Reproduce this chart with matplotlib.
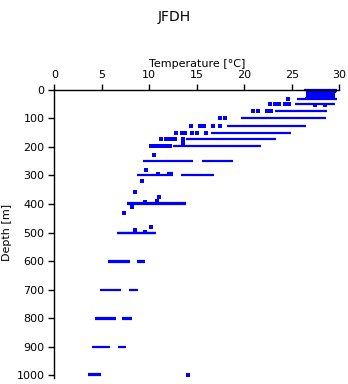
import numpy as np
import matplotlib
matplotlib.use("Agg")
import matplotlib.pyplot as plt

# горизонтальные отрезки: глубина [м], мин. и макс. температура [°C]
seg_depth = [0, 4, 8, 12, 16, 20, 24, 28,
             31, 49, 75, 100, 125, 150, 173, 198,
             250, 250, 300, 300, 292, 296, 398, 401,
             500, 502, 600, 603, 600, 603, 700, 700,
             800, 803, 800, 803, 900, 900, 997, 1001]
seg_tmin = [26.3, 26.5, 26.5, 26.5, 26.5, 26.5, 26.5, 26.4,
            25.6, 25.3, 23.2, 19.7, 18.2, 16.5, 13.9, 12.5,
            9.3, 15.6, 8.7, 13.3, 11.9, 11.9, 7.7, 7.7,
            6.6, 6.6, 5.7, 5.7, 8.7, 8.7, 4.8, 7.9,
            4.3, 4.3, 7.1, 7.1, 4.0, 6.7, 3.5, 3.5]
seg_tmax = [29.8, 29.8, 29.7, 29.6, 29.5, 29.5, 29.5, 29.4,
            29.8, 29.5, 28.7, 28.6, 26.5, 24.9, 23.3, 21.8,
            14.6, 18.8, 12.5, 16.8, 12.5, 12.5, 13.9, 13.9,
            10.7, 10.7, 8.0, 8.0, 9.5, 9.5, 7.0, 8.8,
            6.5, 6.5, 8.2, 8.2, 5.9, 7.5, 4.9, 4.9]

# отдельные точки
pt_temp = [24.6, 22.7, 23.2, 23.7, 24.3, 24.7, 20.9, 21.4, 22.4, 22.8,
           17.4, 18.0, 14.4, 15.3, 15.8, 16.7, 17.4,
           12.8, 13.4, 13.8, 14.5, 15.0, 16.0,
           11.2, 11.8, 12.1, 12.4, 12.7, 13.5, 13.5,
           10.2, 10.6, 11.0, 11.3, 11.6, 11.9, 12.2,
           10.5, 9.7, 10.9, 9.2, 8.5, 11.0,
           9.6, 10.8, 8.2, 7.3, 8.5, 9.6, 10.2, 14.1, 27.4, 28.5]
pt_depth = [31, 49, 49, 49, 49, 49, 75, 75, 75, 75,
            100, 100, 125, 125, 125, 125, 125,
            150, 150, 150, 150, 150, 150,
            173, 173, 173, 173, 173, 173, 185,
            198, 198, 198, 198, 198, 198, 198,
            230, 280, 296, 318, 358, 374,
            393, 388, 410, 430, 491, 497, 482, 1000, 54, 54]

plt.rcParams['font.family'] = ['DejaVu Sans']
fig = plt.figure(figsize=(3.48, 3.84), dpi=100)
ax = fig.add_axes([0.156, 0.023, 0.819, 0.743])

ax.hlines(seg_depth, seg_tmin, seg_tmax, colors='#0000ff', linewidth=1.6, clip_on=False)
ax.scatter(pt_temp, pt_depth, marker='s', s=5, color='#0000ff', linewidths=0, clip_on=False)

ax.set_xlim(0, 30)
ax.set_ylim(1000, 0)
ax.set_xticks(np.arange(0, 31, 5))
ax.set_yticks(np.arange(0, 1001, 100))
ax.xaxis.tick_top()
ax.xaxis.set_label_position('top')
ax.set_xlabel('Temperature [°C]', fontsize=8, labelpad=2)
ax.set_ylabel('Depth [m]', fontsize=8, labelpad=3)
ax.tick_params(labelsize=8, length=4, width=1, pad=3)
for s in ['right', 'bottom']:
    ax.spines[s].set_visible(False)
for s in ['left', 'top']:
    ax.spines[s].set_linewidth(1)
ax.spines['left'].set_bounds(1010, 0)

fig.text(0.5, 0.975, 'JFDH', ha='center', va='top', fontsize=10)

fig.savefig('out.png', dpi=100)
